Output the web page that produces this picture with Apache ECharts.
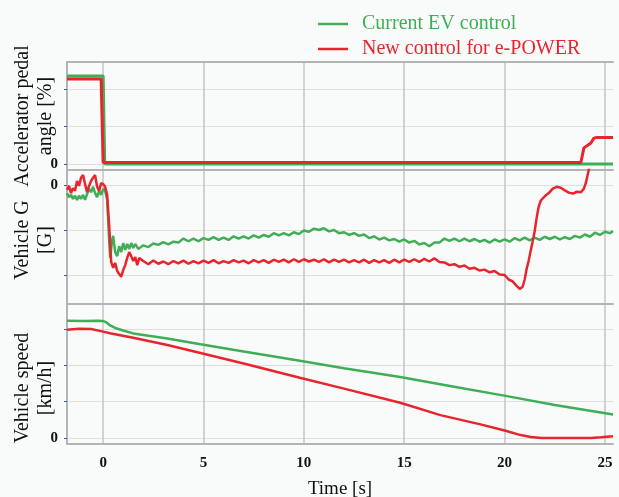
<!DOCTYPE html>
<html>
<head>
<meta charset="utf-8">
<script src="https://cdn.jsdelivr.net/npm/echarts@6/dist/echarts.min.js"></script>
<style>
html, body { margin: 0; padding: 0; background: #f9fbfb; }
#chart { width: 619px; height: 497px; }
</style>
</head>
<body>
<div id="chart"></div>
<script>
// ticks
const timeTicks = [0, 5, 10, 15, 20, 25];
const pedalTicks = [0, 10, 20];
const gTicks = [0, -0.1, -0.2];
const speedTicks = [0, 10, 20, 30];
const seriesNames = ['Current EV control', 'New control for e-POWER'];

// accelerator pedal angle [%], [time, value]
const pedalCurrent = [[-1.8, 23.5], [0.0, 23.5], [0.08, 0], [25.4, 0]];
const pedalNew = [[-1.8, 22.7], [-0.1, 22.7], [0.0, 0.4], [23.8, 0.4], [23.95, 4.3],
  [24.3, 5.6], [24.45, 6.9], [24.6, 7.1], [25.4, 7.1]];

// vehicle G [G]
const gCurrent = [
  [-1.8, -0.018], [-1.7, -0.027], [-1.6, -0.022], [-1.5, -0.031], [-1.4, -0.024], [-1.3, -0.033],
  [-1.2, -0.024], [-1.1, -0.031], [-1.0, -0.022], [-0.9, -0.033], [-0.8, -0.020], [-0.7, -0.009],
  [-0.6, -0.016], [-0.5, -0.004], [-0.4, -0.018], [-0.3, -0.027], [-0.2, -0.013], [-0.1, -0.022],
  [0.0, -0.009], [0.1, -0.013], [0.2, -0.033], [0.3, -0.122], [0.35, -0.162], [0.45, -0.122],
  [0.5, -0.113], [0.6, -0.149], [0.7, -0.158], [0.8, -0.136], [0.9, -0.149], [1.0, -0.129],
  [1.1, -0.144], [1.2, -0.131], [1.3, -0.142], [1.4, -0.129], [1.5, -0.140], [1.6, -0.131],
  [1.75, -0.142], [2.0, -0.134], [2.25, -0.138], [2.5, -0.130], [2.75, -0.133], [3.0, -0.127],
  [3.25, -0.132], [3.5, -0.126], [3.75, -0.128], [4.0, -0.119], [4.25, -0.125], [4.5, -0.119],
  [4.75, -0.125], [5.0, -0.118], [5.25, -0.122], [5.5, -0.116], [5.75, -0.122], [6.0, -0.117],
  [6.25, -0.122], [6.5, -0.114], [6.75, -0.119], [7.0, -0.114], [7.25, -0.119], [7.5, -0.112],
  [7.75, -0.117], [8.0, -0.111], [8.25, -0.115], [8.5, -0.107], [8.75, -0.112], [9.0, -0.107],
  [9.25, -0.112], [9.5, -0.105], [9.75, -0.109], [10.0, -0.101], [10.25, -0.104], [10.5, -0.097],
  [10.75, -0.100], [11.0, -0.096], [11.25, -0.103], [11.5, -0.100], [11.75, -0.107], [12.0, -0.105],
  [12.25, -0.111], [12.5, -0.107], [12.75, -0.113], [13.0, -0.110], [13.25, -0.118], [13.5, -0.114],
  [13.75, -0.121], [14.0, -0.117], [14.25, -0.123], [14.5, -0.120], [14.75, -0.126], [15.0, -0.121],
  [15.25, -0.128], [15.5, -0.124], [15.75, -0.132], [16.0, -0.129], [16.25, -0.136], [16.5, -0.128],
  [16.75, -0.128], [17.0, -0.119], [17.25, -0.124], [17.5, -0.119], [17.75, -0.125], [18.0, -0.119],
  [18.25, -0.125], [18.5, -0.120], [18.75, -0.126], [19.0, -0.122], [19.25, -0.128], [19.5, -0.121],
  [19.75, -0.126], [20.0, -0.121], [20.25, -0.126], [20.5, -0.118], [20.75, -0.123], [21.0, -0.117],
  [21.25, -0.123], [21.5, -0.117], [21.75, -0.122], [22.0, -0.115], [22.25, -0.120], [22.5, -0.115],
  [22.75, -0.121], [23.0, -0.116], [23.25, -0.120], [23.5, -0.113], [23.75, -0.117], [24.0, -0.110],
  [24.25, -0.115], [24.5, -0.106], [24.75, -0.111], [25.0, -0.104], [25.25, -0.107], [25.4, -0.102]
];
const gNew = [
  [-1.8, -0.011], [-1.7, -0.002], [-1.6, -0.018], [-1.5, -0.007], [-1.4, -0.013], [-1.3, 0.009],
  [-1.2, -0.002], [-1.1, 0.016], [-1.0, 0.022], [-0.9, 0.002], [-0.8, -0.016], [-0.7, -0.002],
  [-0.6, 0.009], [-0.5, 0.016], [-0.4, 0.022], [-0.3, -0.004], [-0.2, -0.013], [-0.1, 0.004],
  [0.0, 0.002], [0.1, -0.004], [0.2, -0.022], [0.3, -0.089], [0.4, -0.171], [0.5, -0.184],
  [0.6, -0.173], [0.7, -0.191], [0.8, -0.198], [0.9, -0.204], [1.0, -0.189], [1.1, -0.178],
  [1.2, -0.162], [1.3, -0.149], [1.4, -0.158], [1.5, -0.169], [1.6, -0.160], [1.7, -0.178],
  [1.8, -0.162], [2.0, -0.169], [2.25, -0.176], [2.5, -0.168], [2.75, -0.175], [3.0, -0.170],
  [3.25, -0.176], [3.5, -0.169], [3.75, -0.174], [4.0, -0.168], [4.25, -0.175], [4.5, -0.169],
  [4.75, -0.174], [5.0, -0.168], [5.25, -0.173], [5.5, -0.167], [5.75, -0.174], [6.0, -0.169],
  [6.25, -0.173], [6.5, -0.167], [6.75, -0.172], [7.0, -0.168], [7.25, -0.174], [7.5, -0.167],
  [7.75, -0.172], [8.0, -0.167], [8.25, -0.173], [8.5, -0.166], [8.75, -0.171], [9.0, -0.166],
  [9.25, -0.172], [9.5, -0.165], [9.75, -0.171], [10.0, -0.165], [10.25, -0.170], [10.5, -0.166],
  [10.75, -0.171], [11.0, -0.165], [11.25, -0.172], [11.5, -0.166], [11.75, -0.171], [12.0, -0.166],
  [12.25, -0.172], [12.5, -0.167], [12.75, -0.172], [13.0, -0.166], [13.25, -0.173], [13.5, -0.167],
  [13.75, -0.172], [14.0, -0.167], [14.25, -0.173], [14.5, -0.166], [14.75, -0.172], [15.0, -0.166],
  [15.25, -0.171], [15.5, -0.165], [15.75, -0.171], [16.0, -0.164], [16.25, -0.170], [16.5, -0.163],
  [16.75, -0.171], [17.0, -0.172], [17.25, -0.178], [17.5, -0.176], [17.75, -0.182], [18.0, -0.179],
  [18.25, -0.186], [18.5, -0.184], [18.75, -0.190], [19.0, -0.188], [19.25, -0.194], [19.5, -0.191],
  [19.75, -0.199], [20.0, -0.200], [20.2, -0.210], [20.4, -0.214], [20.6, -0.224], [20.75, -0.231],
  [20.9, -0.226], [21.0, -0.210], [21.1, -0.186], [21.2, -0.168], [21.3, -0.146], [21.4, -0.125],
  [21.5, -0.102], [21.6, -0.072], [21.7, -0.048], [21.8, -0.035], [21.9, -0.030], [22.0, -0.025],
  [22.2, -0.018], [22.4, -0.008], [22.6, -0.004], [22.8, -0.006], [23.0, -0.012], [23.2, -0.017],
  [23.4, -0.019], [23.6, -0.015], [23.8, -0.016], [23.95, -0.008], [24.05, 0.005], [24.15, 0.025],
  [24.25, 0.045], [24.4, 0.08]
];

// vehicle speed [km/h]
const speedCurrent = [[-1.8, 32.3], [-1.0, 32.2], [-0.3, 32.3], [0.0, 32.2], [0.15, 31.9],
  [0.35, 31.0], [0.6, 30.3], [1.0, 29.6], [1.5, 28.8], [3.2, 27.4], [4.85, 25.8], [7.0, 23.8],
  [9.8, 21.3], [12.0, 19.2], [14.8, 16.8], [17.0, 14.6], [20.05, 11.6], [22.5, 9.1], [25.4, 6.5]];
const speedNew = [[-1.8, 29.8], [-1.2, 30.1], [-0.6, 30.0], [0.0, 29.3], [0.4, 28.8], [1.5, 27.6],
  [3.2, 25.6], [4.85, 23.4], [7.0, 20.5], [9.8, 16.6], [12.0, 13.6], [14.8, 9.7], [16.8, 6.3],
  [18.8, 3.75], [20.05, 2.0], [20.8, 0.8], [21.3, 0.3], [21.85, 0], [24.3, 0], [24.8, 0.2], [25.4, 0.5]];

const green = '#40ae55';
const red = '#e8242d';
const serif = "'Liberation Serif', 'DejaVu Serif', serif";
const edge = { show: true, onZero: false, lineStyle: { color: '#b4b4b4', width: 2 } };

function xAxisFor(gridIndex, last) {
  return {
    type: 'value', gridIndex: gridIndex, min: -1.8, max: 25.4,
    axisLine: edge,
    axisTick: { show: false, customValues: timeTicks },
    axisLabel: {
      show: last, customValues: timeTicks, margin: 12,
      fontFamily: serif, fontSize: 15, fontWeight: 'bold', color: '#111'
    },
    splitLine: { show: true, lineStyle: { color: '#c4c4c4', width: 1.5 } },
    name: last ? 'Time [s]' : '', nameLocation: 'middle', nameGap: 36,
    nameTextStyle: { fontFamily: serif, fontSize: 19, color: '#111' }
  };
}

function yAxisFor(gridIndex, ticks, min, max, name, pad) {
  return {
    type: 'value', gridIndex: gridIndex, min: min, max: max,
    axisLine: edge,
    axisTick: { show: true, length: 3, customValues: ticks, lineStyle: { color: '#3355cc', width: 1 } },
    axisLabel: {
      customValues: [0], margin: 9,
      fontFamily: serif, fontSize: 15, fontWeight: 'bold', color: '#111'
    },
    splitLine: { show: true, lineStyle: { color: '#dedede', width: 1 } },
    name: name, nameLocation: 'middle', nameGap: 10, nameRotate: 90, nameMoveOverlap: false,
    nameTextStyle: { fontFamily: serif, fontSize: 20, lineHeight: 23, color: '#111', padding: pad }
  };
}

function line(name, data, color, width, xi) {
  return {
    name: name, type: 'line', data: data, xAxisIndex: xi, yAxisIndex: xi,
    symbol: 'none', smooth: false, clip: true,
    lineStyle: { color: color, width: width }, itemStyle: { color: color }
  };
}

const chart = echarts.init(document.getElementById('chart'));
chart.setOption({
  backgroundColor: '#f9fbfb',
  animation: false,
  legend: {
    orient: 'vertical', left: 313, top: 9, icon: 'rect', itemWidth: 30, itemHeight: 2.5, itemGap: 5,
    data: [
      { name: seriesNames[0], textStyle: { color: green } },
      { name: seriesNames[1], textStyle: { color: red } }
    ],
    textStyle: { fontFamily: serif, fontSize: 20, lineHeight: 20, padding: [0, 0, 0, 9] }
  },
  grid: [
    { left: 67, right: 6, top: 62, height: 108, outerBoundsMode: 'none' },
    { left: 67, right: 6, top: 170, height: 134, outerBoundsMode: 'none' },
    { left: 67, right: 6, top: 304, height: 140, outerBoundsMode: 'none' }
  ],
  xAxis: [
    xAxisFor(0, false),
    xAxisFor(1, false),
    xAxisFor(2, true),
    { type: 'value', gridIndex: 0, min: -1.8, max: 25.4, position: 'top',
      axisLine: edge, axisTick: { show: false }, axisLabel: { show: false }, splitLine: { show: false } }
  ],
  yAxis: [
    yAxisFor(0, pedalTicks, -1.6, 27.2, 'Accelerator pedal\nangle [%]', [0, 0, 0, 0]),
    yAxisFor(1, gTicks, -0.2644, 0.0333, 'Vehicle G\n[G]', [0, 6, 0, 0]),
    yAxisFor(2, speedTicks, -1.65, 36.9, 'Vehicle speed\n[km/h]', [0, 28, 0, 0])
  ],
  series: [
    line(seriesNames[0], pedalCurrent, green, 3, 0),
    line(seriesNames[1], pedalNew, red, 3, 0),
    line(seriesNames[0], gCurrent, green, 2.5, 1),
    line(seriesNames[1], gNew, red, 2.5, 1),
    line(seriesNames[0], speedCurrent, green, 2.5, 2),
    line(seriesNames[1], speedNew, red, 2.5, 2)
  ]
});
</script>
</body>
</html>
